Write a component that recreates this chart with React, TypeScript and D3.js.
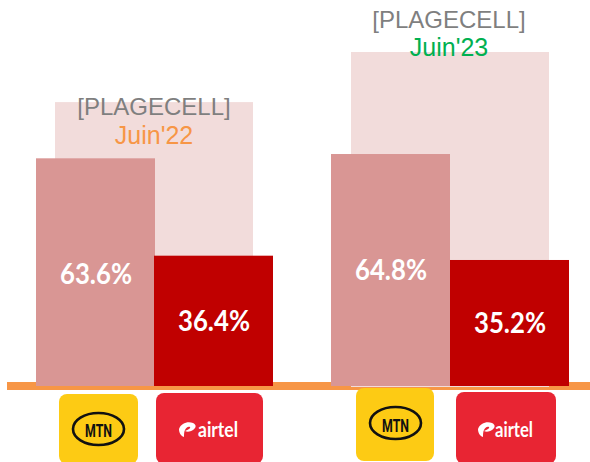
import React, { useRef, useEffect } from 'react';
import * as d3 from 'd3';

const periods = ["Juin'22", "Juin'23"];
const periodColors = ['#F79646', '#00B050'];
const totals = [79.3, 93.3];
const mtnShare = [63.6, 64.8];
const airtelShare = [36.4, 35.2];
const titleLabel = '[PLAGECELL]';

// logo boxes (cx/cy = emblem centre, ty = text baseline)
const logos = [
  { kind: 'mtn', x: 59, y: 394, w: 79, h: 70, cx: 98.5, cy: 429, ty: 437 },
  { kind: 'airtel', x: 156, y: 393, w: 107, h: 71, cx: 179, cy: 423, tx: 198, tw: 40, ty: 437 },
  { kind: 'mtn', x: 356, y: 388, w: 78, h: 73, cx: 395.5, cy: 423, ty: 432 },
  { kind: 'airtel', x: 456, y: 392, w: 100, h: 72, cx: 478, cy: 423, tx: 495, tw: 38, ty: 437 },
];

// vertical offsets of the labels, they don't follow the bars exactly
const titleY = [115, 28];
const subtitleY = [143.5, 56];

function drawMtn(g, box) {
  g.append('rect')
    .attr('x', box.x).attr('y', box.y)
    .attr('width', box.w).attr('height', box.h)
    .attr('rx', 8)
    .attr('fill', '#FDCB14');
  g.append('ellipse')
    .attr('cx', box.cx).attr('cy', box.cy)
    .attr('rx', 25.5).attr('ry', 16)
    .attr('fill', 'none')
    .attr('stroke', '#111')
    .attr('stroke-width', 2.6);
  g.append('text')
    .attr('x', box.cx).attr('y', box.ty)
    .attr('text-anchor', 'middle')
    .attr('font-family', 'Roboto, sans-serif')
    .attr('font-weight', 700)
    .attr('font-size', 19)
    .attr('fill', '#111')
    .attr('textLength', 27)
    .attr('lengthAdjust', 'spacingAndGlyphs')
    .text('MTN');
}

function drawAirtel(g, box) {
  g.append('rect')
    .attr('x', box.x).attr('y', box.y)
    .attr('width', box.w).attr('height', box.h)
    .attr('rx', 8)
    .attr('fill', '#E82533');
  g.append('path')
    .attr('transform', `translate(${box.cx},${box.cy})`)
    .attr('d', 'M0,6 C2,0 9,-2 14,0 C18,2 17,5 14,7 C11,9 8,9 6,8 C9,7 12,5 11,4 C9,3 7,5 6,7 C5,9 5,11 5,14 C2,13 0,10 0,6 Z')
    .attr('fill', '#fff');
  g.append('text')
    .attr('x', box.tx).attr('y', box.ty)
    .attr('font-family', 'Lato, sans-serif')
    .attr('font-weight', 700)
    .attr('font-size', 21)
    .attr('fill', '#fff')
    .attr('textLength', box.tw)
    .attr('lengthAdjust', 'spacingAndGlyphs')
    .text('airtel');
}

function App() {
  const chartContainer = useRef(null);

  useEffect(() => {
    const width = 590;
    const height = 462;
    const baseline = 386;
    const barWidth = 119;

    const x = d3.scaleBand().domain(periods).range([36, 626]).padding(0);
    const y = d3.scaleLinear().domain([0, 100]).range([baseline, baseline - 358]);

    const root = d3.select(chartContainer.current);
    root.selectAll('*').remove();
    const svg = root.append('svg')
      .attr('width', width)
      .attr('height', height)
      .attr('viewBox', [0, 0, width, height])
      .style('position', 'absolute')
      .style('left', 0)
      .style('top', 0)
      .style('background', '#fff');

    // orange axis
    svg.append('rect')
      .attr('x', 7).attr('y', 382)
      .attr('width', width - 7).attr('height', 8)
      .attr('fill', '#F79646');

    const groups = svg.selectAll('g.period')
      .data(periods)
      .join('g')
      .attr('class', 'period')
      .attr('transform', d => `translate(${x(d)},0)`);

    groups.append('rect')
      .attr('x', (d, i) => (i === 0 ? 19 : 20))
      .attr('y', (d, i) => y(totals[i]))
      .attr('width', 198)
      .attr('height', (d, i) => y(0) - y(totals[i]) + (i === 1 ? 1 : 0))
      .attr('fill', '#F2DCDB');

    groups.append('rect')
      .attr('x', 0)
      .attr('y', (d, i) => y(mtnShare[i]))
      .attr('width', barWidth)
      .attr('height', (d, i) => y(0) - y(mtnShare[i]))
      .attr('fill', '#D99694');

    groups.append('rect')
      .attr('x', (d, i) => (i === 0 ? barWidth - 1 : barWidth))
      .attr('y', (d, i) => y(airtelShare[i]))
      .attr('width', barWidth)
      .attr('height', (d, i) => y(0) - y(airtelShare[i]))
      .attr('fill', '#C00000');

    const valueText = sel => sel
      .attr('text-anchor', 'middle')
      .attr('font-family', 'Lato, sans-serif')
      .attr('font-weight', 700)
      .attr('font-size', 29)
      .attr('fill', '#fff')
      .attr('textLength', 72)
      .attr('lengthAdjust', 'spacingAndGlyphs');

    groups.append('text')
      .attr('x', 60)
      .attr('y', (d, i) => (y(mtnShare[i]) + y(0)) / 2 + 12 - i * 2.5)
      .call(valueText)
      .text((d, i) => `${mtnShare[i]}%`);

    groups.append('text')
      .attr('x', (d, i) => (i === 0 ? 178 : 179))
      .attr('y', (d, i) => (y(airtelShare[i]) + y(0)) / 2 + 10.5)
      .call(valueText)
      .text((d, i) => `${airtelShare[i]}%`);

    groups.append('text')
      .attr('x', 118)
      .attr('y', (d, i) => titleY[i])
      .attr('text-anchor', 'middle')
      .attr('font-family', '"Liberation Sans", sans-serif')
      .attr('font-size', 24)
      .attr('fill', '#7F7F7F')
      .text(titleLabel);

    groups.append('text')
      .attr('x', 118)
      .attr('y', (d, i) => subtitleY[i])
      .attr('text-anchor', 'middle')
      .attr('font-family', '"Liberation Sans", sans-serif')
      .attr('font-size', 25)
      .attr('fill', (d, i) => periodColors[i])
      .text(d => d);

    const logoLayer = svg.append('g');
    logos.forEach(box => {
      const g = logoLayer.append('g');
      if (box.kind === 'mtn') drawMtn(g, box);
      else drawAirtel(g, box);
    });
  }, []);

  return <div ref={chartContainer}></div>;
}

export default App;
